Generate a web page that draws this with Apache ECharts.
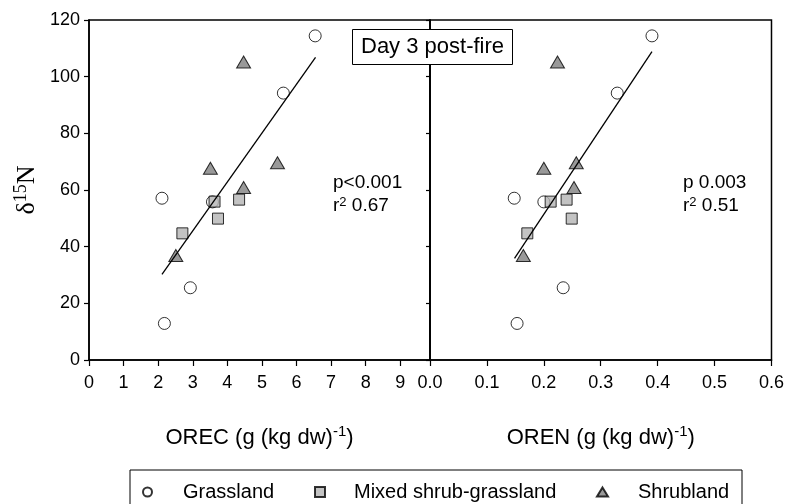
<!DOCTYPE html>
<html><head><meta charset="utf-8">
<script src="https://cdn.jsdelivr.net/npm/echarts@6/dist/echarts.min.js"></script>
<style>html,body{margin:0;padding:0;background:#fff}#c{width:787px;height:504px}</style>
</head><body><div id="c"></div>
<script>
// Grassland (circles)
const grassOREC = [6.54, 5.62, 2.11, 3.57, 2.93, 2.18];
const grassOREN = [0.390, 0.329, 0.148, 0.200, 0.234, 0.153];
const grassD15N = [114.4, 94.2, 57.1, 55.8, 25.5, 12.9];
// Mixed shrub-grassland (squares)
const mixedOREC = [3.63, 4.34, 3.73, 2.70];
const mixedOREN = [0.212, 0.240, 0.249, 0.171];
const mixedD15N = [55.9, 56.6, 49.9, 44.7];
// Shrubland (triangles)
const shrubOREC = [4.47, 3.51, 5.45, 4.47, 2.51];
const shrubOREN = [0.224, 0.200, 0.257, 0.253, 0.164];
const shrubD15N = [105.2, 67.7, 69.6, 60.9, 36.9];
// Regression lines (end points)
const fitORECx = [2.11, 6.55];
const fitORECy = [30.2, 106.8];
const fitORENx = [0.1485, 0.390];
const fitORENy = [35.9, 108.8];
// Stats text
const statsOREC = ['p<0.001', '0.67'];
const statsOREN = ['p 0.003', '0.51'];
const seriesNames = ['Grassland', 'Mixed shrub-grassland', 'Shrubland'];

const zip = (xs, ys) => xs.map((x, i) => [x, ys[i]]);
const FONT = 'Liberation Sans, Arial, sans-serif';
const chart = echarts.init(document.getElementById('c'), null, {renderer: 'canvas'});

const axisLineStyle = {show: true, lineStyle: {color: '#000', width: 1.5}};
const sty = [
  {symbol: 'circle', symbolSize: 12, itemStyle: {color: '#fff', borderColor: '#000', borderWidth: 1}},
  {symbol: 'rect', symbolSize: 11, itemStyle: {color: '#b4b4b4', borderColor: '#000', borderWidth: 1}},
  {symbol: 'triangle', symbolSize: [14, 12], itemStyle: {color: '#808080', borderColor: '#000', borderWidth: 1}}
];
const xs = [[grassOREC, mixedOREC, shrubOREC], [grassOREN, mixedOREN, shrubOREN]];
const ys = [grassD15N, mixedD15N, shrubD15N];
const series = [];
for (let p = 0; p < 2; p++) {
  for (let k = 0; k < 3; k++) {
    series.push(Object.assign({
      type: 'scatter', name: seriesNames[k], xAxisIndex: p, yAxisIndex: p,
      data: zip(xs[p][k], ys[k]), z: 2 + k
    }, sty[k]));
  }
}
series.push({type: 'line', name: 'fitOREC', xAxisIndex: 0, yAxisIndex: 0, data: zip(fitORECx, fitORECy),
  showSymbol: false, symbol: 'none', z: 10, lineStyle: {color: '#000', width: 1.3}});
series.push({type: 'line', name: 'fitOREN', xAxisIndex: 1, yAxisIndex: 1, data: zip(fitORENx, fitORENy),
  showSymbol: false, symbol: 'none', z: 10, lineStyle: {color: '#000', width: 1.3}});

const legendIcons = [
  {left: 142, w: 9, h: 9, pad: 26},
  {left: 314, w: 10, h: 10, pad: 24},
  {left: 596, w: 11, h: 9, pad: 25}
];
const legends = legendIcons.map((li, k) => ({
  data: [seriesNames[k]], left: li.left, top: 481, padding: 0,
  itemWidth: li.w, itemHeight: li.h, selectedMode: false,
  textStyle: {fontFamily: FONT, fontSize: 20, color: '#000', lineHeight: 22, padding: [0, 0, 0, li.pad]}
}));

const xName = (t) => ({
  name: '{t|' + t + ' (g (kg dw)}{s|-1}{t|)}', nameLocation: 'middle', nameGap: 64,
  nameTextStyle: {rich: {
    t: {fontFamily: FONT, fontSize: 22, color: '#000', lineHeight: 28},
    s: {fontFamily: FONT, fontSize: 15, color: '#000', verticalAlign: 'top'}
  }}
});

const option = {
  animation: false,
  backgroundColor: '#fff',
  textStyle: {fontFamily: FONT},
  title: {
    text: 'Day 3 post-fire', left: 352, top: 29, padding: [6, 9, 6, 9],
    borderColor: '#000', borderWidth: 1, backgroundColor: '#fff', z: 20,
    textStyle: {fontFamily: FONT, fontSize: 22, fontWeight: 'normal', color: '#000', lineHeight: 24}
  },
  legend: legends,
  grid: [
    {left: 89, top: 20, width: 341, height: 340, show: true, borderColor: '#000', borderWidth: 1.5, backgroundColor: 'transparent'},
    {left: 430, top: 20, width: 342, height: 340, show: true, borderColor: '#000', borderWidth: 1.5, backgroundColor: 'transparent'}
  ],
  xAxis: [
    Object.assign({type: 'value', gridIndex: 0, min: 0, max: 9.86, interval: 1,
      axisLine: axisLineStyle, splitLine: {show: false},
      axisTick: {show: true, inside: false, length: 6, lineStyle: {color: '#000', width: 1.2}},
      axisLabel: {fontFamily: FONT, fontSize: 18, color: '#000', margin: 14, showMaxLabel: false,
        formatter: v => (v > 9.5 ? '' : String(v))}}, xName('OREC')),
    Object.assign({type: 'value', gridIndex: 1, min: 0, max: 0.6, interval: 0.1,
      axisLine: axisLineStyle, splitLine: {show: false},
      axisTick: {show: true, inside: false, length: 6, lineStyle: {color: '#000', width: 1.2}},
      axisLabel: {fontFamily: FONT, fontSize: 18, color: '#000', margin: 14, formatter: v => v.toFixed(1)}}, xName('OREN'))
  ],
  yAxis: [
    {type: 'value', gridIndex: 0, min: 0, max: 120, interval: 20,
      axisLine: axisLineStyle, splitLine: {show: false},
      axisTick: {show: true, inside: false, length: 5, lineStyle: {color: '#000', width: 1.2}},
      axisLabel: {fontFamily: FONT, fontSize: 18, color: '#000', margin: 9},
      name: '{d|δ}{s|15}{n|N}', nameLocation: 'middle', nameRotate: 90, nameGap: 47,
      nameTextStyle: {rich: {
        d: {fontFamily: 'Liberation Serif, serif', fontSize: 26, color: '#000', lineHeight: 30},
        s: {fontFamily: 'Liberation Serif, serif', fontSize: 18, color: '#000', verticalAlign: 'top'},
        n: {fontFamily: 'Liberation Serif, serif', fontSize: 26, color: '#000', lineHeight: 30}
      }}},
    {type: 'value', gridIndex: 1, min: 0, max: 120, interval: 20,
      axisLine: axisLineStyle, splitLine: {show: false},
      axisTick: {show: true, inside: false, length: 4, lineStyle: {color: '#000', width: 1.2}},
      axisLabel: {show: false}}
  ],
  graphic: [
    {type: 'rect', shape: {x: 130, y: 470, width: 612, height: 60}, z: -1,
      style: {fill: '#fff', stroke: '#000', lineWidth: 1}},
    {type: 'text', x: 333, y: 183, z: 20, style: {text: statsOREC[0], font: '19px ' + FONT, fill: '#000', verticalAlign: 'middle'}},
    {type: 'text', x: 333, y: 206, z: 20, style: {text: '{a|r}{s|2}{a| ' + statsOREC[1] + '}', verticalAlign: 'middle',
      rich: {a: {fontFamily: FONT, fontSize: 19, fill: '#000', lineHeight: 21}, s: {fontFamily: FONT, fontSize: 13, fill: '#000', verticalAlign: 'top'}}}},
    {type: 'text', x: 683, y: 183, z: 20, style: {text: statsOREN[0], font: '19px ' + FONT, fill: '#000', verticalAlign: 'middle'}},
    {type: 'text', x: 683, y: 206, z: 20, style: {text: '{a|r}{s|2}{a| ' + statsOREN[1] + '}', verticalAlign: 'middle',
      rich: {a: {fontFamily: FONT, fontSize: 19, fill: '#000', lineHeight: 21}, s: {fontFamily: FONT, fontSize: 13, fill: '#000', verticalAlign: 'top'}}}}
  ],
  series: series
};
chart.setOption(option);
</script>
</body></html>
